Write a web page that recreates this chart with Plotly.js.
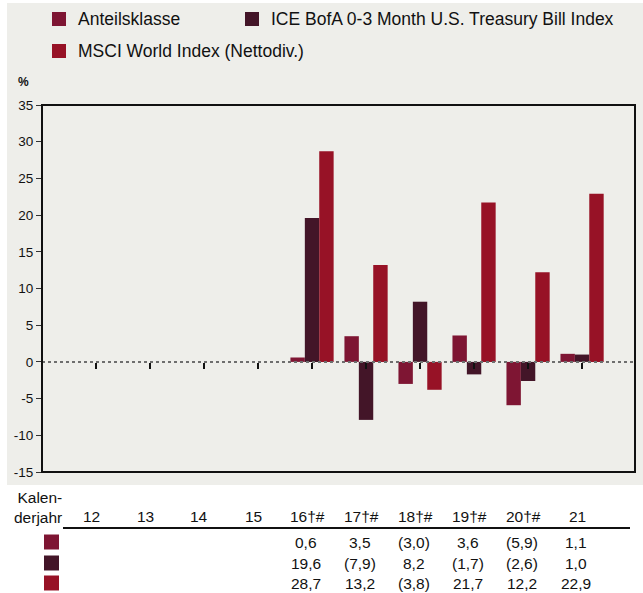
<!DOCTYPE html>
<html>
<head>
<meta charset="utf-8">
<script src="https://cdn.plot.ly/plotly-3.0.1.min.js"></script>
<style>html,body{margin:0;padding:0;background:#fff;}#chart{width:643px;height:593px;}</style>
</head>
<body>
<div id="chart"></div>
<script>
// ---- data ----
var years = ["12", "13", "14", "15", "16†#", "17†#", "18†#", "19†#", "20†#", "21"];
var seriesNames = ["Anteilsklasse", "ICE BofA 0-3 Month U.S. Treasury Bill Index", "MSCI World Index (Nettodiv.)"];
var anteilsklasse = [null, null, null, null, 0.6, 3.5, -3.0, 3.6, -5.9, 1.1];
var iceBofA = [null, null, null, null, 19.6, -7.9, 8.2, -1.7, -2.6, 1.0];
var msciWorld = [null, null, null, null, 28.7, 13.2, -3.8, 21.7, 12.2, 22.9];
var yTicks = [-15, -10, -5, 0, 5, 10, 15, 20, 25, 30, 35];
var colors = ["#7e1533", "#431528", "#971226"];

// ---- geometry helpers (pixel -> paper) ----
var L = 42, R = 635, T = 105, B = 472;
function px(x) { return (x - L) / (R - L); }
function py(y) { return (B - y) / (B - T); }

var allSeries = [anteilsklasse, iceBofA, msciWorld];
var traces = allSeries.map(function (vals, i) {
  return {
    type: "bar", x: years, y: vals, name: seriesNames[i],
    marker: { color: colors[i], line: { width: 0 } },
    hoverinfo: "skip", showlegend: false, cliponaxis: false
  };
});

function fmt(v) {
  if (v === null) return "";
  var s = Math.abs(v).toFixed(1).replace(".", ",");
  return v < 0 ? "(" + s + ")" : s;
}

var font = "Liberation Sans, Arial, sans-serif";
var annotations = [];
var shapes = [];

// grey background panel
shapes.push({ type: "rect", xref: "paper", yref: "paper", x0: px(7), x1: px(650), y0: py(485), y1: py(3),
  fillcolor: "#eeeeea", line: { width: 0 }, layer: "below" });
// zero line
shapes.push({ type: "line", xref: "paper", yref: "y", x0: 0, x1: 1, y0: 0, y1: 0,
  line: { color: "#6e6e6e", width: 2, dash: "dot" }, layer: "above" });
// frame
shapes.push({ type: "rect", xref: "paper", yref: "paper", x0: 0, x1: 1, y0: 0, y1: 1,
  line: { color: "#111", width: 2 }, fillcolor: "rgba(0,0,0,0)", layer: "above" });

// legend (custom)
var legPos = [[52, 19], [245, 19], [52, 51]];
seriesNames.forEach(function (n, i) {
  var p = legPos[i];
  shapes.push({ type: "rect", xref: "paper", yref: "paper", x0: px(p[0]), x1: px(p[0] + 14),
    y0: py(p[1] + 7), y1: py(p[1] - 7), fillcolor: colors[i], line: { width: 0 } });
  annotations.push({ xref: "paper", yref: "paper", x: px(p[0] + 24), y: py(p[1]), xanchor: "left", yanchor: "middle",
    text: n, showarrow: false, font: { family: font, size: 17.5, color: "#111" } });
});

// % label
annotations.push({ xref: "paper", yref: "paper", x: px(23), y: py(82), xanchor: "center", yanchor: "middle",
  text: "<b>%</b>", showarrow: false, font: { family: font, size: 12, color: "#111" } });

// table
annotations.push({ xref: "paper", yref: "paper", x: px(64), y: py(507), xanchor: "right", yanchor: "middle", align: "right",
  text: "Kalen-<br>derjahr", showarrow: false, font: { family: font, size: 15.5, color: "#111" } });
shapes.push({ type: "line", xref: "paper", yref: "paper", x0: px(63), x1: px(630), y0: py(528), y1: py(528),
  line: { color: "#111", width: 2 } });
var rowY = [542, 563, 583];
years.forEach(function (yr, j) {
  annotations.push({ xref: "x", yref: "paper", x: j, xshift: -5, y: py(516), xanchor: "center", yanchor: "middle",
    text: yr, showarrow: false, font: { family: font, size: 15.5, color: "#111" } });
  allSeries.forEach(function (vals, i) {
    if (vals[j] === null) return;
    annotations.push({ xref: "x", yref: "paper", x: j, xshift: -6, y: py(rowY[i]), xanchor: "center", yanchor: "middle",
      text: fmt(vals[j]), showarrow: false, font: { family: font, size: 15.5, color: "#111" } });
  });
});
rowY.forEach(function (y, i) {
  shapes.push({ type: "rect", xref: "paper", yref: "paper", x0: px(44), x1: px(59), y0: py(y + 7.5), y1: py(y - 7.5),
    fillcolor: colors[i], line: { width: 0 } });
});

var layout = {
  width: 643, height: 593,
  margin: { l: L, r: 643 - R, t: T, b: 593 - B, pad: 0 },
  paper_bgcolor: "#ffffff", plot_bgcolor: "rgba(0,0,0,0)",
  barmode: "group", bargap: 0.2, bargroupgap: 0,
  showlegend: false,
  font: { family: font, color: "#111" },
  xaxis: {
    type: "category", range: [-1, 9.98], anchor: "free", position: 0.3,
    showline: false, showgrid: false, zeroline: false,
    ticks: "outside", ticklen: 6, tickwidth: 1.5, tickcolor: "#111", showticklabels: false
  },
  yaxis: {
    range: [-15, 35], tickvals: yTicks, ticktext: yTicks.map(String),
    showline: false, showgrid: false, zeroline: false,
    ticks: "outside", ticklen: 5, tickwidth: 1, tickcolor: "#333",
    tickfont: { family: font, size: 13.5, color: "#111" }
  },
  shapes: shapes,
  annotations: annotations
};

Plotly.newPlot("chart", traces, layout, { staticPlot: true, displayModeBar: false });
</script>
</body>
</html>
